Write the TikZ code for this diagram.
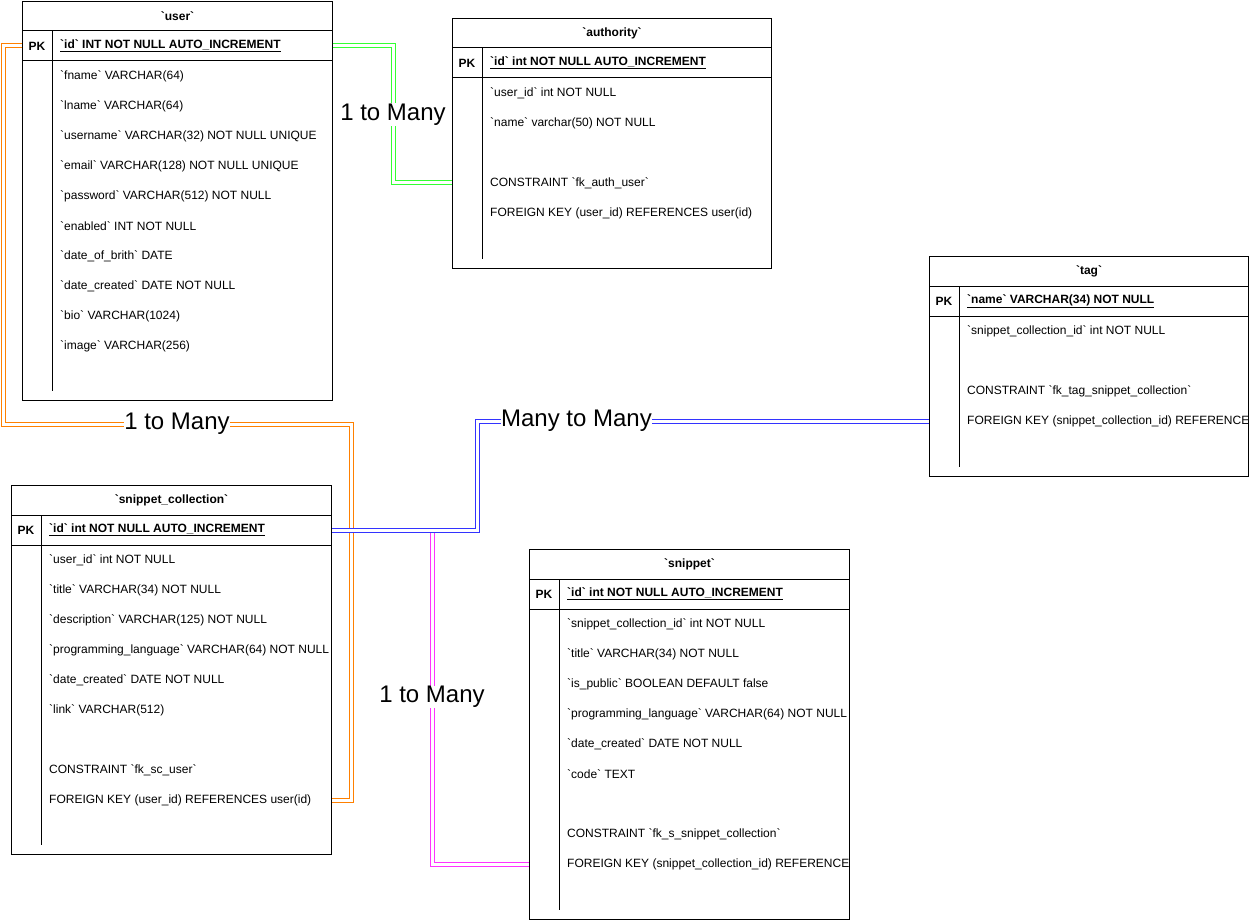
\documentclass[tikz,border=0pt]{standalone}
\usepackage{fontspec}
\newfontfamily\erf{Liberation Sans}
\definecolor{erorange}{HTML}{FF8000}
\definecolor{ergreen}{HTML}{33FF33}
\definecolor{erblue}{HTML}{3333FF}
\definecolor{ermagenta}{HTML}{FF33FF}
\tikzset{
  tbl/.style={draw=black, line width=1pt, fill=white, rectangle, inner sep=0pt, anchor=north west},
  ttl/.style={font=\erf\fontsize{12}{14}\selectfont\bfseries, inner sep=0pt},
  pkl/.style={font=\erf\fontsize{12}{14}\selectfont\bfseries, inner sep=0pt},
  pkf/.style={font=\erf\fontsize{12}{14}\selectfont\bfseries, inner sep=0pt, anchor=west},
  fld/.style={font=\erf\fontsize{12}{14}\selectfont, inner sep=0pt, anchor=west},
  sep/.style={line width=1pt, draw=black},
  rel/.style={line width=1pt, double=white, double distance=3pt},
  lbl/.style={font=\erf\fontsize{24}{28}\selectfont, fill=white, inner sep=0.5pt},
}
% #1 name, #2 x, #3 y, #4 width, #5 height, #6 title, #7 primary key
\newcommand\ertable[7]{%
  \node[tbl, minimum width=#4pt, minimum height=#5pt] (#1) at (#2,#3) {};
  \draw[sep] ([yshift=-30pt]#1.north west) -- ([yshift=-30pt]#1.north east);
  \draw[sep] ([yshift=-60pt]#1.north west) -- ([yshift=-60pt]#1.north east);
  \draw[sep] ([shift={(30pt,-30pt)}]#1.north west) -- ([shift={(30pt,10pt)}]#1.south west);
  \node[ttl] (#1-t) at ([yshift=-15pt]#1.north) {#6};
  \node[pkl] (#1-pkl) at ([shift={(15pt,-45pt)}]#1.north west) {PK};
  \node[pkf] (#1-pk) at ([shift={(38pt,-45pt)}]#1.north west) {\underline{#7}};
}
\newcommand\erfields[2]{%
  \foreach \t [count=\i] in {#2} {
    \node[fld] (#1-f\i) at ([shift={(38pt,{-45pt-30pt*\i})}]#1.north west) {\t};
  }
}
\begin{document}
\begin{tikzpicture}[x=1pt, y=-1pt]
\useasboundingbox (0,0) rectangle (1249,920);

% tables
\ertable{user}{22}{1}{310}{399}{`user`}{`id` INT NOT NULL AUTO\_INCREMENT}
\erfields{user}{{`fname` VARCHAR(64)},{`lname` VARCHAR(64)},{`username` VARCHAR(32) NOT NULL UNIQUE},{`email` VARCHAR(128) NOT NULL UNIQUE},{`password` VARCHAR(512) NOT NULL},{`enabled` INT NOT NULL},{`date\_of\_brith` DATE},{`date\_created` DATE NOT NULL},{`bio` VARCHAR(1024)},{`image` VARCHAR(256)}}

\ertable{auth}{452}{18}{319}{250}{`authority`}{`id` int NOT NULL AUTO\_INCREMENT}
\erfields{auth}{{`user\_id` int NOT NULL},{`name` varchar(50) NOT NULL},{},{CONSTRAINT `fk\_auth\_user`},{FOREIGN KEY (user\_id) REFERENCES user(id)}}

\ertable{tag}{929}{256}{319}{220}{`tag`}{`name` VARCHAR(34) NOT NULL}
\erfields{tag}{{`snippet\_collection\_id` int NOT NULL},{},{CONSTRAINT `fk\_tag\_snippet\_collection`},{FOREIGN KEY (snippet\_collection\_id) REFERENCE}}

\ertable{sc}{11}{485}{320}{369}{`snippet\_collection`}{`id` int NOT NULL AUTO\_INCREMENT}
\erfields{sc}{{`user\_id` int NOT NULL},{`title` VARCHAR(34) NOT NULL},{`description` VARCHAR(125) NOT NULL},{`programming\_language` VARCHAR(64) NOT NULL},{`date\_created` DATE NOT NULL},{`link` VARCHAR(512)},{},{CONSTRAINT `fk\_sc\_user`},{FOREIGN KEY (user\_id) REFERENCES user(id)}}

\ertable{snip}{529}{549}{320}{370}{`snippet`}{`id` int NOT NULL AUTO\_INCREMENT}
\erfields{snip}{{`snippet\_collection\_id` int NOT NULL},{`title` VARCHAR(34) NOT NULL},{`is\_public` BOOLEAN DEFAULT false},{`programming\_language` VARCHAR(64) NOT NULL},{`date\_created` DATE NOT NULL},{`code` TEXT},{},{CONSTRAINT `fk\_s\_snippet\_collection`},{FOREIGN KEY (snippet\_collection\_id) REFERENCE}}

% connectors
\draw[rel, draw=ergreen] (user.east |- user-pk) -- ++(60,0)
  |- node[lbl, pos=0.25] {1 to Many} (auth.west |- auth-f4);

\draw[rel, draw=erorange] (user.west |- user-pk) -- ++(-19,0) -- ++(0,378)
  -- node[lbl] {1 to Many} ++(348,0) |- (sc.east |- sc-f9);

\draw[rel, draw=ermagenta] (sc.east |- sc-pk) -- ++(100,0)
  |- node[lbl, pos=0.25] {1 to Many} (snip.west |- snip-f9);

\draw[rel, draw=erblue] (sc.east |- sc-pk) -- ++(145,0)
  |- node[lbl, pos=0.61] {Many to Many} (tag.west |- tag-f4);
\end{tikzpicture}
\end{document}
